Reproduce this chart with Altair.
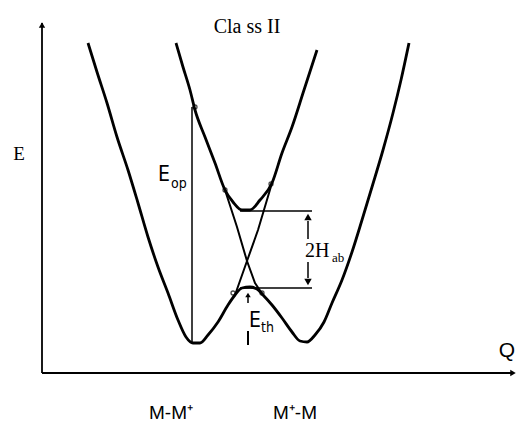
import altair as alt
import pandas as pd

# ---- data (Q along the horizontal axis, E upward) ----
# lower adiabatic surface (double well)
lower_q = [46, 55, 65, 75, 86, 96, 106, 116, 126, 136, 144, 151, 158, 166, 176, 186, 193, 200,
           208, 215, 221, 230, 240, 250, 258, 265, 273, 282, 290, 300, 310, 320, 330, 341, 351, 359, 367]
lower_e = [330, 301, 270, 236, 203, 170, 136, 106, 80, 53, 36, 30, 30, 38, 51, 68, 78, 85,
           86, 84, 78, 68, 55, 41, 32, 31, 38, 51, 70, 93, 121, 153, 186, 223, 260, 293, 330]
# upper adiabatic surface
upper_q = [134, 141, 148, 153, 163, 173, 183, 191, 200, 208, 218, 230, 240, 250, 262, 275]
upper_e = [330, 306, 283, 263, 236, 210, 183, 171, 163, 163, 173, 190, 220, 246, 283, 323]
# diabatic crossing branches
diab_a_q = [193, 205, 216, 230]
diab_a_e = [78, 112, 143, 190]
diab_b_q = [183, 195, 205, 213, 221]
diab_b_e = [183, 146, 112, 90, 78]
# small open circles
circ_q = [153, 183, 229, 191, 220]
circ_e = [266, 183, 189, 80, 80]

# straight segments: axes, E_op, 2H_ab, E_th
seg_q = [0, 0, 150, 198, 198, 266, 266, 206, 206]
seg_e = [0, 0, 30, 162, 85, 152, 111, 70, 28]
seg_q2 = [0, 472, 150, 270, 270, 266, 266, 206, 206]
seg_e2 = [350, 0, 266, 162, 85, 134, 95, 78, 42]
seg_w = [1.8, 1.8, 1.5, 1.5, 1.5, 1.5, 1.5, 1.5, 2]

# arrow heads
head_q = [0, 471, 266, 266, 206]
head_e = [348, 0, 156, 91, 78]
head_shape = ["triangle-up", "triangle-right", "triangle-up", "triangle-down", "triangle-up"]
head_size = [40, 40, 55, 55, 30]

# labels
serif_text = ["Cla ss II", "E", "2H", "ab"]
serif_q = [205, -23, 263, 290]
serif_e = [346, 219, 116, 111]
serif_size = [20, 19, 20, 13]
serif_align = ["center", "center", "left", "left"]

sans_text = ["Q", "M-M\u207a", "M\u207a-M"]
sans_q = [465, 129, 253]
sans_e = [16, -46, -46]
sans_size = [21, 19, 19]

narrow_text = ["E", "op", "E", "th"]
narrow_q = [116, 129, 207, 219]
narrow_e = [192, 185, 46, 41]
narrow_size = [21, 14, 21, 14]

# ---- build tables ----
rows = []
for name, qs, es in [("lower", lower_q, lower_e), ("upper", upper_q, upper_e)]:
    for i, (q, e) in enumerate(zip(qs, es)):
        rows.append({"curve": name, "i": i, "Q": q, "E": e})
curves = pd.DataFrame(rows)
rows = []
for name, qs, es in [("a", diab_a_q, diab_a_e), ("b", diab_b_q, diab_b_e)]:
    for i, (q, e) in enumerate(zip(qs, es)):
        rows.append({"curve": name, "i": i, "Q": q, "E": e})
diab = pd.DataFrame(rows)
circ = pd.DataFrame({"Q": circ_q, "E": circ_e})
segs = pd.DataFrame({"Q": seg_q, "E": seg_e, "Q2": seg_q2, "E2": seg_e2, "w": seg_w})
heads = pd.DataFrame({"Q": head_q, "E": head_e, "shape": head_shape, "s": head_size})
serif = pd.DataFrame({"t": serif_text, "Q": serif_q, "E": serif_e, "s": serif_size, "a": serif_align})
sans = pd.DataFrame({"t": sans_text, "Q": sans_q, "E": sans_e, "s": sans_size})
narrow = pd.DataFrame({"t": narrow_text, "Q": narrow_q, "E": narrow_e, "s": narrow_size})

xs = alt.Scale(domain=[-34, 476], nice=False, zero=False)
ys = alt.Scale(domain=[-51, 365], nice=False, zero=False)
X = alt.X("Q:Q", scale=xs, axis=None)
Y = alt.Y("E:Q", scale=ys, axis=None)

curve_layer = alt.Chart(curves).mark_line(color="black", strokeWidth=2.8, interpolate="monotone").encode(
    x=X, y=Y, detail="curve:N", order="i:Q")
diab_layer = alt.Chart(diab).mark_line(color="black", strokeWidth=2.0).encode(
    x=X, y=Y, detail="curve:N", order="i:Q")
seg_layer = alt.Chart(segs).mark_rule(color="black").encode(
    x=X, y=Y, x2="Q2:Q", y2="E2:Q", strokeWidth=alt.StrokeWidth("w:Q", scale=None, legend=None))
circ_layer = alt.Chart(circ).mark_point(color="black", filled=False, size=16, strokeWidth=1.3).encode(x=X, y=Y)
head_layer = alt.Chart(heads).mark_point(color="black", filled=True, opacity=1).encode(
    x=X, y=Y, shape=alt.Shape("shape:N", scale=None, legend=None),
    size=alt.Size("s:Q", scale=None, legend=None))

serif_center = alt.Chart(serif[serif["a"] == "center"]).mark_text(
    font="Liberation Serif", align="center", baseline="middle", color="black").encode(
    x=X, y=Y, text="t:N", size=alt.Size("s:Q", scale=None, legend=None))
serif_left = alt.Chart(serif[serif["a"] == "left"]).mark_text(
    font="Liberation Serif", align="left", baseline="alphabetic", color="black").encode(
    x=X, y=Y, text="t:N", size=alt.Size("s:Q", scale=None, legend=None))
sans_layer = alt.Chart(sans).mark_text(
    font="Liberation Sans", align="center", baseline="alphabetic", color="black").encode(
    x=X, y=Y, text="t:N", size=alt.Size("s:Q", scale=None, legend=None))
narrow_layer = alt.Chart(narrow).mark_text(
    font="Liberation Sans Narrow, DejaVu Sans Condensed, Liberation Sans", align="left",
    baseline="alphabetic", color="black").encode(
    x=X, y=Y, text="t:N", size=alt.Size("s:Q", scale=None, legend=None))

chart = alt.layer(
    seg_layer, curve_layer, diab_layer, circ_layer, head_layer,
    serif_center, serif_left, sans_layer, narrow_layer
).properties(
    width=510, height=416, padding=0, background="white",
    autosize=alt.AutoSizeParams(type="none")
).configure_view(stroke=None)

chart.save("out.html", embed_options={"renderer": "svg", "actions": False})
